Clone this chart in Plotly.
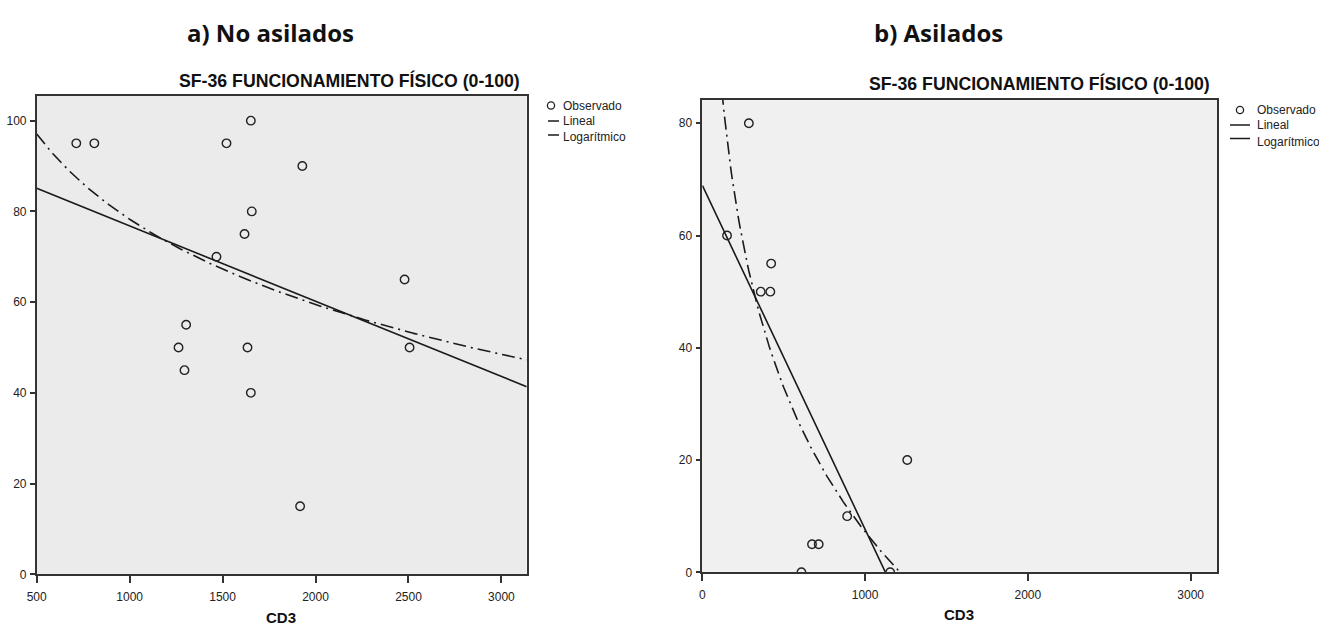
import numpy as np
import plotly.graph_objects as go

# ---------------- data ----------------
left_cd3 = [713, 810, 1521, 1652, 1929, 1657, 1618, 1467, 2479, 1304, 1263, 1634, 2506, 1295, 1652, 1917]
left_sf36 = [95, 95, 95, 100, 90, 80, 75, 70, 65, 55, 50, 50, 50, 45, 40, 15]
left_lin = [93.4, -0.0166]      # intercept, slope
left_log = [265.6, -27.12]      # a + b*ln(x)

right_cd3 = [286, 152, 423, 359, 418, 1259, 890, 674, 715, 609, 1154]
right_sf36 = [80, 60, 55, 50, 50, 20, 10, 5, 5, 0, 0]
right_lin = [68.96, -0.0613]
right_log = [263.7, -37.13]

left_xticks = [500, 1000, 1500, 2000, 2500, 3000]
left_yticks = [0, 20, 40, 60, 80, 100]
right_xticks = [0, 1000, 2000, 3000]
right_yticks = [0, 20, 40, 60, 80]

left_xrange = [500, 3136]
left_yrange = [0, 105.5]
right_xrange = [0, 3160]
right_yrange = [0, 84.15]

panel_titles = ["a) No asilados", "b) Asilados"]
chart_title = "SF-36 FUNCIONAMIENTO FÍSICO (0-100)"
x_title = "CD3"
legend_names = ["Observado", "Lineal", "Logarítmico"]

W, H = 1319, 625


def px(x):
    return x / W


def py(y):
    return 1 - y / H


fig = go.Figure()
DASHDOT = "13px,5px,2px,5px"
TICKFONT = dict(family="Liberation Sans, Arial", size=12, color="#222")

panels = [
    dict(x=left_cd3, y=left_sf36, lin=left_lin, log=left_log, xr=left_xrange, yr=left_yrange,
         xa="x", ya="y", xdom=[px(36.7), px(526.7)], ydom=[py(574.3), py(95.7)],
         xt=left_xticks, yt=left_yticks, bg="#EBEBEB"),
    dict(x=right_cd3, y=right_sf36, lin=right_lin, log=right_log, xr=right_xrange, yr=right_yrange,
         xa="x2", ya="y2", xdom=[px(702.3), px(1216.7)], ydom=[py(572.3), py(100)],
         xt=right_xticks, yt=right_yticks, bg="#F0F0F0"),
]

layout_axes = {}
for i, p in enumerate(panels):
    xs = np.linspace(max(p["xr"][0], 1), p["xr"][1], 400)
    fig.add_trace(go.Scatter(
        x=xs, y=p["lin"][0] + p["lin"][1] * xs, mode="lines", name=legend_names[1],
        line=dict(color="#1a1a1a", width=1.6), xaxis=p["xa"], yaxis=p["ya"], showlegend=False))
    fig.add_trace(go.Scatter(
        x=xs, y=p["log"][0] + p["log"][1] * np.log(xs), mode="lines", name=legend_names[2],
        line=dict(color="#1a1a1a", width=1.6, dash=DASHDOT), xaxis=p["xa"], yaxis=p["ya"],
        showlegend=False))
    fig.add_trace(go.Scatter(
        x=p["x"], y=p["y"], mode="markers", name=legend_names[0],
        marker=dict(symbol="circle-open", size=8.5, color="#222", line=dict(width=1.4)),
        xaxis=p["xa"], yaxis=p["ya"], showlegend=False))

    sfx = "" if i == 0 else "2"
    layout_axes["xaxis" + sfx] = dict(
        domain=p["xdom"], range=p["xr"], anchor="y" + sfx, tickmode="array", tickvals=p["xt"],
        ticks="outside", ticklen=7, tickwidth=1.5, tickcolor="#333", showgrid=False, zeroline=False,
        showline=True, linecolor="#333", linewidth=1.8, mirror=True, tickfont=TICKFONT,
        ticklabelstandoff=3, automargin=False)
    layout_axes["yaxis" + sfx] = dict(
        domain=p["ydom"], range=p["yr"], anchor="x" + sfx, tickmode="array", tickvals=p["yt"],
        ticks="outside", ticklen=5, tickwidth=1.5, tickcolor="#333", showgrid=False, zeroline=False,
        showline=True, linecolor="#333", linewidth=1.5, mirror=True, tickfont=TICKFONT,
        ticklabelstandoff=1, automargin=False)

annotations = []
shapes = []

HEADFONT = dict(family="Open Sans", size=24, color="#111")
annotations.append(dict(text="<b>%s</b>" % panel_titles[0], x=px(270), y=py(32), xref="paper", yref="paper",
                        xanchor="center", yanchor="middle", showarrow=False, font=HEADFONT))
annotations.append(dict(text="<b>%s</b>" % panel_titles[1], x=px(938), y=py(32), xref="paper", yref="paper",
                        xanchor="center", yanchor="middle", showarrow=False, font=HEADFONT))

for xr_, yc, xc3, yc3 in [(522, 80, 281, 617), (1212, 84, 959, 614)]:
    annotations.append(dict(text="<b>%s</b>" % chart_title, x=px(xr_), y=py(yc), xref="paper", yref="paper",
                            xanchor="right", yanchor="middle", showarrow=False,
                            font=dict(family="Liberation Sans, Arial", size=17.7, color="#111")))
    annotations.append(dict(text="<b>%s</b>" % x_title, x=px(xc3), y=py(yc3), xref="paper", yref="paper",
                            xanchor="center", yanchor="middle", showarrow=False,
                            font=dict(family="Liberation Sans, Arial", size=15, color="#111")))

LEGFONT = dict(family="Liberation Sans, Arial", size=12, color="#222")
for (cx, cy, lx0, lx1, tx, ly1, ly2, ty1, ty2) in [
        (551, 105.5, 548, 559, 561, 121, 135, 121, 137),
        (1240, 110, 1230, 1250, 1255, 125, 138.5, 125, 142)]:
    shapes.append(dict(type="circle", xref="paper", yref="paper",
                       x0=px(cx - 3.6), x1=px(cx + 3.6), y0=py(cy + 3.6), y1=py(cy - 3.6),
                       line=dict(color="#222", width=1.3)))
    shapes.append(dict(type="line", xref="paper", yref="paper", x0=px(lx0), x1=px(lx1),
                       y0=py(ly1), y1=py(ly1), line=dict(color="#1a1a1a", width=1.5)))
    shapes.append(dict(type="line", xref="paper", yref="paper", x0=px(lx0), x1=px(lx1),
                       y0=py(ly2), y1=py(ly2), line=dict(color="#1a1a1a", width=1.5)))
    for txt, yy in [(legend_names[0], cy), (legend_names[1], ty1), (legend_names[2], ty2)]:
        annotations.append(dict(text=txt, x=px(tx), y=py(yy), xref="paper", yref="paper",
                                xanchor="left", yanchor="middle", showarrow=False, font=LEGFONT))

# panel 2 has a slightly lighter background than panel 1
shapes.append(dict(type="rect", xref="x2 domain", yref="y2 domain", x0=0, x1=1, y0=0, y1=1,
                   fillcolor=panels[1]["bg"], line=dict(width=0), layer="below"))

fig.update_layout(
    template="none",
    width=W, height=H, margin=dict(l=0, r=0, t=0, b=0, pad=0, autoexpand=False),
    paper_bgcolor="white", plot_bgcolor=panels[0]["bg"],
    annotations=annotations, shapes=shapes, showlegend=False,
    **layout_axes,
)

fig.write_html("out.html", config={"displayModeBar": False},
               post_script="document.body.style.margin='0';document.body.style.overflow='hidden';")
